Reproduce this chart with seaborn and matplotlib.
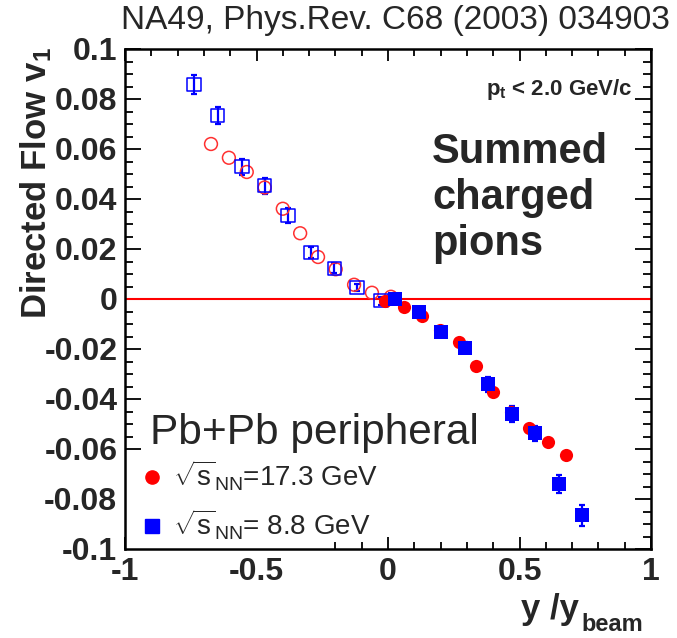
import numpy as np
import pandas as pd
import matplotlib
matplotlib.use('Agg')
import matplotlib.pyplot as plt
import seaborn as sns
from matplotlib.patches import Rectangle
from matplotlib.lines import Line2D
from matplotlib.ticker import MultipleLocator

# ---- data ----
# sqrt(sNN)=17.3 GeV, measured (filled circles)
x17 = [-0.011, 0.062, 0.129, 0.198, 0.269, 0.336, 0.400, 0.468, 0.537, 0.607, 0.676]
v17 = [-0.0009, -0.0033, -0.0069, -0.0125, -0.0172, -0.0268, -0.0370, -0.0452, -0.0517, -0.0572, -0.0625]
# 17.3 GeV, reflected (open circles)
x17r = [-0.673, -0.605, -0.537, -0.469, -0.400, -0.334, -0.266, -0.199, -0.129, -0.061, 0.011]
v17r = [0.0620, 0.0565, 0.0508, 0.0446, 0.0361, 0.0263, 0.0168, 0.0119, 0.0057, 0.0025, 0.0009]
# sqrt(sNN)=8.8 GeV, measured (filled squares)
x88 = [0.026, 0.117, 0.203, 0.293, 0.380, 0.470, 0.559, 0.649, 0.737]
v88 = [0.0001, -0.0051, -0.0131, -0.0194, -0.0340, -0.0458, -0.0536, -0.0739, -0.0864]
e88 = [0.0015, 0.0015, 0.0020, 0.0022, 0.0030, 0.0032, 0.0030, 0.0036, 0.0042]
# 8.8 GeV, reflected (open squares)
x88r = [-0.737, -0.648, -0.556, -0.469, -0.381, -0.293, -0.204, -0.117, -0.026]
v88r = [0.0859, 0.0734, 0.0530, 0.0453, 0.0335, 0.0187, 0.0123, 0.0046, -0.0007]
e88r = [0.0039, 0.0034, 0.0032, 0.0031, 0.0030, 0.0022, 0.0020, 0.0015, 0.0015]

xticks = [-1, -0.5, 0, 0.5, 1]
xticklabels = ['-1', '-0.5', '0', '0.5', '1']
yticks = [0.1, 0.08, 0.06, 0.04, 0.02, 0, -0.02, -0.04, -0.06, -0.08, -0.1]
yticklabels = ['0.1', '0.08', '0.06', '0.04', '0.02', '0', '-0.02', '-0.04', '-0.06', '-0.08', '-0.1']
legend_labels = [r'$\sqrt{\mathrm{s}}_{\mathrm{NN}}$=17.3 GeV', r'$\sqrt{\mathrm{s}}_{\mathrm{NN}}$= 8.8 GeV']

sns.set_theme(style='ticks')
plt.rcParams['font.family'] = ['Liberation Sans', 'DejaVu Sans']
plt.rcParams['mathtext.fontset'] = 'custom'
plt.rcParams['mathtext.rm'] = 'Liberation Sans'
plt.rcParams['mathtext.it'] = 'Liberation Sans:italic'
plt.rcParams['mathtext.bf'] = 'Liberation Sans:bold'

W, H = 677, 638
fig = plt.figure(figsize=(W / 100, H / 100), dpi=100)
ax = fig.add_axes([125 / W, 89 / H, 526 / W, 500 / H])

ax.axhline(0, color='red', lw=1.5, zorder=1)

# error bars
ax.errorbar(x88r, v88r, yerr=e88r, fmt='none', ecolor='blue', elinewidth=1.6, capsize=2.5, capthick=1.6, zorder=2)
ax.errorbar(x88, v88, yerr=e88, fmt='none', ecolor='blue', elinewidth=1.6, capsize=2.5, capthick=1.6, zorder=2)

# open (reflected) markers
sns.scatterplot(x=x17r, y=v17r, ax=ax, marker='o', s=85, color='red', edgecolor='#ff3030', linewidth=1.1, zorder=3)
ax.collections[-1].set_facecolor('none')
sns.scatterplot(x=x88r, y=v88r, ax=ax, marker='s', s=94, color='blue', edgecolor='blue', linewidth=1.1, zorder=3)
ax.collections[-1].set_facecolor('none')
# filled markers
sns.scatterplot(x=x17, y=v17, ax=ax, marker='o', s=90, color='red', edgecolor='red', linewidth=0, zorder=4)
sns.scatterplot(x=x88, y=v88, ax=ax, marker='s', s=90, color='blue', edgecolor='blue', linewidth=0, zorder=5)

ax.set_xlim(-1, 1)
ax.set_ylim(-0.1, 0.1)
ax.set_xticks(xticks)
ax.set_xticklabels(xticklabels)
ax.set_yticks(yticks)
ax.set_yticklabels(yticklabels)
ax.xaxis.set_minor_locator(MultipleLocator(0.1))
ax.yaxis.set_minor_locator(MultipleLocator(0.005))
ax.tick_params(which='both', direction='in', top=True, right=True, color='black', width=1.3)
ax.tick_params(axis='y', which='major', length=11.5, pad=5.5, labelsize=23)
ax.tick_params(axis='y', which='minor', length=6)
ax.tick_params(axis='x', which='major', length=8.5, pad=6, labelsize=23)
ax.tick_params(axis='x', which='minor', length=5)
for lab in ax.get_xticklabels() + ax.get_yticklabels():
    lab.set_fontweight('bold')
for sp in ax.spines.values():
    sp.set_linewidth(1.8)
    sp.set_color('black')
ax.set_xlabel('')
ax.set_ylabel('')

# white legend background covering ticks
ax.add_patch(Rectangle((0, 0), 0.39, 0.186, transform=ax.transAxes, facecolor='white',
                       edgecolor='none', zorder=1.8))

handles = [Line2D([], [], marker='o', color='red', ls='', markersize=9.5),
           Line2D([], [], marker='s', color='blue', ls='', markersize=9.5)]
ax.legend(handles, legend_labels, loc='center left', bbox_to_anchor=(0.03, 0.097),
          frameon=False, fontsize=20, handlelength=0.8, handletextpad=0.35,
          labelspacing=0.55, borderpad=0, borderaxespad=0)

# texts
fig.text(395 / W, 1 - 20 / H, 'NA49, Phys.Rev. C68 (2003) 034903', ha='center', va='center', fontsize=24)
fig.text(36 / W, 1 - 47 / H, r'Directed Flow v$_{\mathbf{1}}$', rotation=90, ha='center', va='top',
         fontsize=25, fontweight='bold')
fig.text(579 / W, 1 - 619 / H, 'y /y', ha='right', va='baseline', fontsize=25, fontweight='bold')
fig.text(581 / W, 1 - 631 / H, 'beam', ha='left', va='baseline', fontsize=17, fontweight='bold')
fig.text(632 / W, 1 - 90 / H, r'p$_{\mathbf{t}}$ < 2.0 GeV/c', ha='right', va='center', fontsize=16, fontweight='bold')
fig.text(432 / W, 1 - 132 / H, 'Summed\ncharged\npions', ha='left', va='top', fontsize=30,
         fontweight='bold', linespacing=1.2)
fig.text(150 / W, 1 - 444 / H, 'Pb+Pb peripheral', ha='left', va='baseline', fontsize=30.5)

fig.savefig('out.png', dpi=100)
